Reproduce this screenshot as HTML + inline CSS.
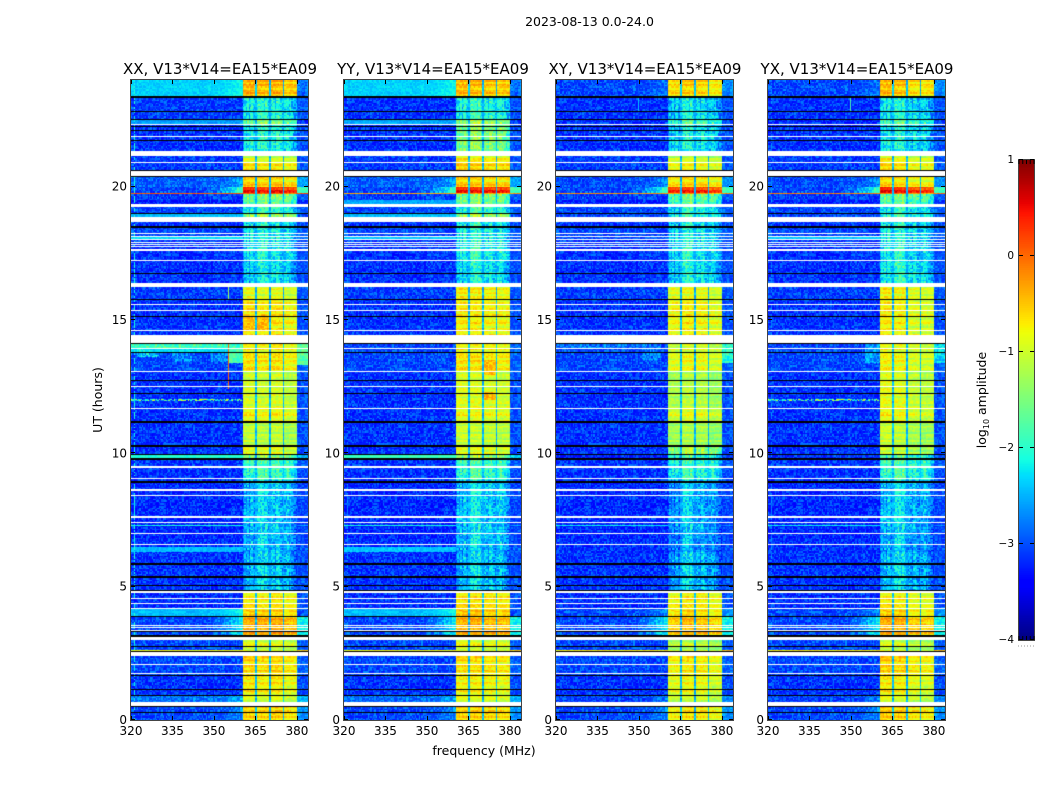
<!DOCTYPE html>
<html lang="en">
<head>
<meta charset="utf-8">
<title>2023-08-13 dynamic spectra</title>
<style>
html,body{margin:0;padding:0;background:#fff;}
#figure{position:relative;width:1050px;height:800px;overflow:hidden;background:#fff;font-family:"DejaVu Sans","Liberation Sans",sans-serif;color:#000;}
#figure canvas{position:absolute;display:block;}
#overlay{position:absolute;left:0;top:0;}
#overlay text{font-family:"DejaVu Sans","Liberation Sans",sans-serif;fill:#000;}
</style>
</head>
<body>
<div id="figure">
<svg id="overlay" width="1050" height="800" viewBox="0 0 1050 800">
<text x="589.5" y="26" text-anchor="middle" font-size="12.5">2023-08-13 0.0-24.0</text>
<text x="484" y="755" text-anchor="middle" font-size="12.5">frequency (MHz)</text>
<text x="102" y="400" text-anchor="middle" font-size="12.5" transform="rotate(-90 102 400)">UT (hours)</text>
<text x="986" y="400" text-anchor="middle" font-size="12.5" transform="rotate(-90 986 400)">log<tspan font-size="8" dy="3">10</tspan><tspan dy="-3"> amplitude</tspan></text>
<line x1="1018" y1="646" x2="1035" y2="646" stroke="#999" stroke-width="1" stroke-dasharray="1 2"/>
</svg>
</div>
<script>
// ---------- chart data (log10 amplitude, UT hours, MHz) ----------
const panelTitles = ["XX, V13*V14=EA15*EA09","YY, V13*V14=EA15*EA09","XY, V13*V14=EA15*EA09","YX, V13*V14=EA15*EA09"];
const freqTicks = [320,335,350,365,380];
const timeTicks = [0,5,10,15,20];
const colorTicks = [1,0,-1,-2,-3,-4];
const colorTickLabels = ["1","0","\u22121","\u22122","\u22123","\u22124"];

// top edge (UT hours) of each observing block; each block ends at the next top edge
const blockTops = [24,23.4,22.54,22.35,21.15,20.93,20.4,19.99,19.75,19.71,19.5,19.36,18.98,18.86,18.49,18.15,18,17.18,16.24,15.75,14.11,13.94,13.77,13.05,11.71,11.21,10.25,9.94,9.79,9,7.33,7.29,7.13,6.48,6.29,4.76,4.16,3.88,3,2.64,2.6,2.41,1.65,0.9,0.68];

// level below the 360-380 MHz band, per block
const lowXX = [-2.35,-3.15,-2.6,-3.2,-3.15,-3.15,-3.0,-3.1,0.1,-3.15,-3.35,-3.1,-2.45,-3.2,-3.1,-2.3,-3.2,-3.2,-3.15,-3.2,-2.0,-2.3,-3.1,-3.2,-3.2,-3.2,-3.2,-2.05,-3.2,-3.25,-2.1,-3.25,-3.25,-2.45,-3.2,-3.2,-2.45,-3.1,-3.1,-0.8,-3.1,-3.1,-3.2,-2.9,-3.1];
const lowYY = [-2.35,-3.2,-2.55,-3.2,-3.15,-3.15,-3.0,-3.1,-0.3,-3.15,-2.55,-3.1,-2.45,-3.2,-3.1,-2.4,-3.2,-3.2,-3.15,-3.2,-3.1,-3.1,-3.1,-3.2,-3.2,-3.2,-3.2,-1.9,-3.2,-3.25,-2.1,-3.25,-3.25,-2.4,-3.2,-3.2,-2.45,-3.1,-3.1,-0.8,-3.1,-3.1,-3.2,-2.95,-3.1];
const lowXY = [-3.1,-3.2,-3.2,-3.2,-3.15,-3.15,-3.1,-3.1,-0.2,-3.15,-3.3,-3.1,-3.1,-3.2,-3.1,-3.1,-3.2,-3.2,-3.15,-3.2,-3.1,-3.1,-3.1,-3.2,-3.2,-3.2,-3.2,-3.3,-3.2,-3.25,-2.2,-3.25,-3.25,-3.2,-3.2,-3.2,-3.1,-3.1,-3.1,-0.7,-3.1,-3.1,-3.2,-3.15,-3.1];
const lowYX = [-3.1,-3.2,-3.25,-3.2,-3.15,-3.15,-3.1,-3.1,-0.1,-3.15,-3.3,-3.1,-3.1,-3.2,-3.1,-2.4,-3.2,-3.2,-3.15,-3.2,-3.1,-3.1,-3.1,-3.2,-3.2,-3.2,-3.2,-3.2,-3.2,-3.25,-2.2,-3.25,-3.25,-3.2,-3.2,-3.2,-3.1,-3.1,-3.1,-0.7,-3.1,-3.1,-3.2,-3.15,-3.1];

// level inside the 360-380 MHz band, per block
const highXX = [-0.4,-2.2,-1.7,-2.2,-0.95,-0.6,-0.55,0.45,0.1,-1.6,-1.75,-2.1,-1.4,-2.3,-2.3,-2.2,-2.3,-2.35,-0.85,-0.65,-0.65,-0.7,-0.65,-0.95,-0.75,-1.05,-0.9,-1.5,-2.0,-2.5,-2.5,-2.5,-2.55,-2.6,-2.5,-0.65,-0.55,-0.3,-0.9,-1,-0.9,-0.55,-0.7,-0.9,-0.5];
const highYY = [-0.45,-2.15,-1.5,-1.6,-0.7,-0.5,-0.55,0.45,-0.3,-1.6,-1.65,-2.05,-1.4,-2.25,-2.25,-2.2,-2.2,-2.3,-0.7,-0.7,-0.7,-0.7,-0.65,-0.9,-0.8,-1,-0.9,-1.4,-2.0,-2.45,-2.5,-2.45,-2.5,-2.6,-2.5,-0.6,-0.5,-0.35,-0.85,-1,-0.85,-0.6,-0.75,-0.85,-0.5];
const highXY = [-0.55,-2.35,-1.95,-2.3,-0.95,-0.7,-0.6,0.4,-0.2,-1.7,-1.85,-2.2,-2.1,-2.35,-2.35,-2.2,-2.3,-2.3,-0.8,-0.7,-0.9,-0.85,-0.8,-1.1,-0.85,-1.15,-1.4,-2,-2.1,-2.6,-2.5,-2.6,-2.7,-2.8,-2.55,-0.65,-0.6,-0.4,-1.1,-1,-1.1,-0.65,-0.8,-0.95,-0.6];
const highYX = [-0.5,-2.3,-1.95,-2.3,-0.8,-0.6,-0.65,0.45,-0.1,-1.7,-1.85,-2.2,-2.1,-2.3,-2.3,-2.2,-2.3,-2.2,-0.75,-0.75,-0.8,-0.8,-0.8,-0.9,-0.8,-1.05,-1.1,-1.9,-2.0,-2.5,-2.5,-2.5,-2.6,-2.7,-2.5,-0.7,-0.6,-0.35,-1,-1,-1,-0.55,-0.75,-0.9,-0.5];

// how strongly the low-band level climbs toward the band edge, per block
const edgeRise = [0.2,0,0,0,0,0,0.3,1.2,0,0,0,0,0,0,0,0,0,0,0,0,0,0,0,0,0,0,0,0,0,0,0,0,0,0,0,0,0.3,0.9,0,0,0,0,0,0.3,0.3];

// flagged (white) and zeroed (black) time ranges in UT hours
const whiteTop = [22.34,21.9,21.34,20.93,20.6,19.36,18.85,18.26,18.14,18.03,17.94,17.86,17.79,17.66,17.61,17.25,16.4,15.59,15.36,14.61,14.42,13.94,13.09,12.53,11.71,9.53,9.08,8.66,8.45,7.66,7.43,7.01,6.59,4.82,4.56,4.38,4.2,3.56,3.49,3.38,3.12,2.56,2.1,1.75,0.69];
const whiteBottom = [22.3,21.86,21.15,20.89,20.4,19.24,18.69,18.23,18.1,17.99,17.9,17.82,17.74,17.64,17.57,17.21,16.24,15.55,15.32,14.57,14.15,13.9,13.05,12.49,11.67,9.45,9.04,8.6,8.41,7.59,7.39,6.98,6.55,4.75,4.53,4.34,4.16,3.53,3.45,3.34,3,2.41,2.06,1.71,0.54];
const blackTop = [23.4,22.85,22.54,22.29,22.13,21.74,20.63,20.4,19.01,18.53,16.75,15.79,15.15,14.15,13.81,12.75,12.25,11.21,10.31,9.98,9.81,8.95,5.88,5.39,5.05,4.88,3.9,3.34,3.19,2.78,2.6,1.68,1.15,0.93,0.54,0.29];
const blackBottom = [23.33,22.79,22.5,22.24,22.09,21.71,20.6,20.36,18.96,18.46,16.71,15.75,15.12,14.11,13.77,12.71,12.21,11.15,10.25,9.94,9.76,8.89,5.81,5.33,5.03,4.82,3.86,3.3,3.12,2.74,2.56,1.65,1.13,0.9,0.5,0.25];

// sub-band (360.5-365, 365.5-370, 370.5-375, 375.5-380 MHz) offsets per polarization
const subOffsetXX = [0,-0.05,0,-0.15];
const subOffsetYY = [0,0,-0.05,-0.1];
const subOffsetXY = [-0.1,0,-0.05,-0.2];
const subOffsetYX = [0.05,0,-0.15,-0.2];
const gapLevel = -2.45;

// channel-by-channel shape of the faint band blocks, 360-380 MHz in 0.5 MHz steps
const weakChannelShape = [-0.4,-0.3,-0.05,-0.2,0.1,-0.25,0.05,0.15,-0.1,-0.2,0,0.15,0.3,0.25,0.4,0.3,0.15,0.35,0.2,0,-0.1,0.05,0.2,0.1,-0.05,0.25,0.3,0.1,0,-0.1,-0.05,0.1,0.25,0.3,0.05,0.2,0,-0.15,-0.2,-0.3];

// brightness of the first channels per polarization
const edgeColumn = [-2.2,-2.8,-3,-2.8];

// broadband patches: polarization index, MHz range, UT range, level, grain strength
const patchPanel = [0,0,0,0,0,0,0,2,2,2,3,3,3,1,1,0,0];
const patchFreqLo = [320,322,335,349,355,380,320,351,380,320,355,380,320,370.5,370.5,365.5,360.5];
const patchFreqHi = [360,330,342,355,360.5,384,360,358,384,352,360.5,384,360,375,375,370,365];
const patchTop = [14.11,13.95,13.84,13.84,13.95,14.11,12.02,14.11,14.11,14.11,14.11,14.11,12.02,13.5,12.3,15.19,15.19];
const patchBottom = [13.95,13.6,13.43,13.43,13.4,13.31,11.98,13.5,13.4,13.95,13.4,13.4,11.98,12.94,12,14.6,14.6];
const patchLevel = [-2,-2.4,-2.75,-2.75,-1.8,-1.7,-2.2,-2.8,-2,-2.8,-2.6,-2.3,-2.2,-0.45,-0.45,-0.45,-0.5];
const patchGrain = [1.2,1,0.8,0.8,0.5,0.5,3,0.8,0.6,0.8,0.7,0.6,3,0.5,0.5,0.5,0.5];

// narrow vertical interference: polarization index, MHz, UT range, level
const rfiPanel = [0,0,0,0,0,1,2,3,3,3,3,3];
const rfiFreq = [321.5,355.2,350,355.2,321.5,321,349.6,349.6,355,355,321,321];
const rfiTop = [14.11,14.11,23.4,16.24,16.24,14.11,23.33,23.33,16.24,14.11,16.24,14.11];
const rfiBottom = [13,12.4,22.85,15.75,15.75,13.3,22.85,22.85,15.75,13.05,15.75,13.05];
const rfiLevel = [0.2,0,-1.8,-1.3,-1.6,-2,-2.4,-1.8,-1.6,-1.6,-1.7,-1.7];

// typed grain table applied to the cells
const speckle = [0.31,-0.42,0.08,-0.17,0.46,-0.29,0.12,-0.5,0.23,0.02,-0.36,0.41,-0.08,0.19,-0.24,0.37,-0.45,0.05,0.28,-0.13,-0.39,0.44,0.1,-0.21,0.34,-0.02,-0.48,0.16,0.26,-0.32,0.07,0.39,-0.11,-0.44,0.21,0.49,-0.26,0.03,-0.16,0.33,-0.38,0.14,-0.06,0.43,-0.23,0.24,-0.47,0.11,0.36,-0.19,-0.03,0.29,-0.34,0.47,-0.12,0.18,-0.41,0.06,0.32,-0.27,0.01,-0.46,0.38,0.15,-0.09,-0.31,0.42,0.22,-0.37,0.09,-0.18,0.48,-0.04,-0.28,0.27,0.13,-0.43,0.35,-0.14,0.04,-0.33,0.45,0.2,-0.49,0.17,-0.07,0.3,-0.22,0.4,-0.35,0.0,0.25,-0.15,-0.4,0.5,-0.1,0.16];
const bandStripe = [0.14,-0.1,0.18,0.02,-0.16,0.08,0.2,-0.06,-0.18,0.12,0.04,-0.13,0.16,-0.03,0.09,-0.2,0.14,0.05,-0.09,0.17,-0.14,0.01,0.1];

const lowLevels = [lowXX,lowYY,lowXY,lowYX];
const highLevels = [highXX,highYY,highXY,highYX];
const subOffsets = [subOffsetXX,subOffsetYY,subOffsetXY,subOffsetYX];

// ---------- geometry and scales ----------
const panelLeft = [131,344,556,768];
const plotTop = 80, plotW = 177, plotH = 640;
const nChan = 128, nRows = 640;
const freqMin = 320, freqMax = 384, timeMin = 0, timeMax = 24;
const cbLeft = 1019, cbTop = 160, cbW = 15, cbH = 480;
const colorMin = -4, colorMax = 1;

function xScale(f){ return (f-freqMin)/(freqMax-freqMin)*plotW; }
function yScale(h){ return (timeMax-h)/(timeMax-timeMin)*plotH; }
function cScale(v){ return (colorMax-v)/(colorMax-colorMin)*cbH; }

const jetR = [[0,0],[0.35,0],[0.66,1],[0.89,1],[1,0.5]];
const jetG = [[0,0],[0.125,0],[0.375,1],[0.64,1],[0.91,0],[1,0]];
const jetB = [[0,0.5],[0.11,1],[0.34,1],[0.65,0],[1,0]];
function lerpStops(st,t){
  for(let i=1;i<st.length;i++){
    if(t<=st[i][0]){
      const a=st[i-1],b=st[i];
      return a[1]+(b[1]-a[1])*(t-a[0])/(b[0]-a[0]);
    }
  }
  return st[st.length-1][1];
}
const colorLut = [];
for(let i=0;i<256;i++){
  const t=i/255;
  colorLut.push('rgb('+Math.round(lerpStops(jetR,t)*255)+','+Math.round(lerpStops(jetG,t)*255)+','+Math.round(lerpStops(jetB,t)*255)+')');
}
function colorOf(v){
  const t=Math.max(0,Math.min(1,(v-colorMin)/(colorMax-colorMin)));
  return colorLut[Math.round(t*255)];
}

function blockIndex(h){
  for(let i=blockTops.length-1;i>=0;i--){ if(h<=blockTops[i] && (i===blockTops.length-1 || h>blockTops[i+1])) return i; }
  return 0;
}

function cellValue(p,b,r,c,h,f){
  const g=Math.floor(r*2/3);
  const s=speckle[(g*53+c*11+((g*c)%17)*5+(g%7)*(c%5))%speckle.length];
  const low=lowLevels[p][b], hi=highLevels[p][b], rise=edgeRise[b];
  const faint=low<-2.8;
  const lowGrain=faint ? (s>0 ? s*0.9 : s*0.35) : s*0.3;
  let v;
  if(f<360.5){
    const k=Math.max(0,(f-345)/15);
    v=low+rise*k*k+lowGrain;
    if(c===2 && s>-0.2) v=Math.max(v,edgeColumn[p]+s*0.5);
  } else if(f<380){
    const o=(f-360.5)/5, sub=Math.min(3,Math.floor(o));
    if(o-sub>0.9){
      v=Math.min(hi,gapLevel)+s*0.4;
    } else if(hi>-1.2){
      v=hi+subOffsets[p][sub]+s*0.4+bandStripe[Math.floor(r/2)%bandStripe.length]-0.05;
    } else {
      v=hi+subOffsets[p][sub]+weakChannelShape[Math.floor((f-360)*2)]+s*0.8;
    }
  } else {
    const upper=low>-2.7 && low<-1 ? low-0.5 : low+0.15+rise*0.8;
    v=upper+(faint ? lowGrain*0.8 : s*0.6);
  }
  for(let i=0;i<patchPanel.length;i++){
    if(patchPanel[i]===p && f>=patchFreqLo[i] && f<patchFreqHi[i] && h<=patchTop[i] && h>patchBottom[i]){
      v=Math.max(v,patchLevel[i]+s*patchGrain[i]);
    }
  }
  for(let i=0;i<rfiPanel.length;i++){
    if(rfiPanel[i]===p && Math.abs(f-rfiFreq[i])<0.2 && h<=rfiTop[i] && h>rfiBottom[i]){
      v=Math.max(v,rfiLevel[i]);
    }
  }
  return v;
}

const figure=document.getElementById('figure');
const overlay=document.getElementById('overlay');
const NS='http://www.w3.org/2000/svg';

function drawHeatmap(p){
  const cv=document.createElement('canvas');
  
  
  cv.width=plotW; cv.height=plotH;
  cv.style.left=panelLeft[p]+'px';
  cv.style.top=plotTop+'px';
  const ctx=cv.getContext('2d');
  const dT=(timeMax-timeMin)/nRows, dF=(freqMax-freqMin)/nChan;
  for(let r=0;r<nRows;r++){
    const h=timeMax-(r+0.5)*dT;
    const b=blockIndex(h);
    const y0=Math.round(yScale(timeMax-r*dT)), y1=Math.round(yScale(timeMax-(r+1)*dT));
    for(let c=0;c<nChan;c++){
      const f=freqMin+(c+0.5)*dF;
      const x0=Math.round(xScale(freqMin+c*dF)), x1=Math.round(xScale(freqMin+(c+1)*dF));
      if(x1>x0 && y1>y0){
        ctx.fillStyle=colorOf(cellValue(p,b,r,c,h,f));
        ctx.fillRect(x0,y0,x1-x0,y1-y0);
      }
    }
  }
  ctx.fillStyle='#fff';
  whiteTop.forEach(function(t,i){
    const y0=Math.round(yScale(t)), y1=Math.max(y0+1,Math.round(yScale(whiteBottom[i])));
    ctx.fillRect(0,y0,plotW,y1-y0);
  });
  ctx.fillStyle='#000';
  blackTop.forEach(function(t,i){
    const y0=Math.round(yScale(t)), y1=Math.max(y0+1,Math.round(yScale(blackBottom[i])));
    ctx.fillRect(0,y0,plotW,y1-y0);
  });
  figure.insertBefore(cv,overlay);
}

function addLine(x1,y1,x2,y2,name){
  const l=document.createElementNS(NS,'line');
  l.setAttribute('x1',x1); l.setAttribute('y1',y1);
  l.setAttribute('x2',x2); l.setAttribute('y2',y2);
  l.setAttribute('stroke','#000'); l.setAttribute('stroke-width','1');
  
  
  overlay.appendChild(l);
}
function addText(x,y,str,size,anchor,name){
  const t=document.createElementNS(NS,'text');
  t.setAttribute('x',x); t.setAttribute('y',y);
  t.setAttribute('font-size',size);
  t.setAttribute('text-anchor',anchor);
  
  
  t.textContent=str;
  overlay.appendChild(t);
}
function addFrame(x,y,w,h,name){
  const f=document.createElementNS(NS,'rect');
  f.setAttribute('x',x-0.5); f.setAttribute('y',y-0.5);
  f.setAttribute('width',w+1); f.setAttribute('height',h+1);
  f.setAttribute('fill','none');
  f.setAttribute('stroke','#444');
  f.setAttribute('stroke-width','1');
  
  
  overlay.appendChild(f);
}

panelTitles.forEach(function(title,p){
  drawHeatmap(p);
  const left=panelLeft[p];
  const bottom=plotTop+plotH;
  addFrame(left,plotTop,plotW,plotH,'panel-frame');
  addText(left+plotW/2+0.5,74,title,15,'middle','panel-title');
  freqTicks.forEach(function(f){
    const x=Math.round(left+xScale(f))+0.5;
    addLine(x,bottom,x,bottom-4,'x-tick-bottom');
    addLine(x,plotTop,x,plotTop+4,'x-tick-top');
    addText(left+xScale(f),bottom+15,String(f),12,'middle','x-tick-label');
  });
  timeTicks.forEach(function(h){
    const y=Math.round(plotTop+yScale(h))-0.5;
    addLine(left,y,left+4,y,'y-tick-left');
    addLine(left+plotW,y,left+plotW-4,y,'y-tick-right');
    addText(left-4,plotTop+yScale(h)+4,String(h),12,'end','y-tick-label');
  });
});

// colorbar
const cb=document.createElement('canvas');


cb.width=cbW; cb.height=cbH;
cb.style.left=cbLeft+'px';
cb.style.top=cbTop+'px';
const cbx=cb.getContext('2d');
for(let i=0;i<cbH;i++){
  cbx.fillStyle=colorOf(colorMax-(i+0.5)/cbH*(colorMax-colorMin));
  cbx.fillRect(0,i,cbW,1);
}
figure.insertBefore(cb,overlay);
addFrame(cbLeft,cbTop,cbW,cbH,'colorbar-frame');
colorTicks.forEach(function(v,i){
  const y=Math.round(cbTop+cScale(v))-0.5;
  addLine(cbLeft,y,cbLeft+4,y,'colorbar-tick-left');
  addLine(cbLeft+cbW,y,cbLeft+cbW-4,y,'colorbar-tick-right');
  addText(cbLeft-5,cbTop+cScale(v)+3,colorTickLabels[i],10.5,'end','colorbar-tick-label');
});
for(let k=0;k<5;k++){
  const x=cbLeft+k*cbW/4;
  addLine(x,cbTop,x,cbTop+4,'colorbar-edge-tick-top');
  addLine(x,cbTop+cbH,x,cbTop+cbH-4,'colorbar-edge-tick-bottom');
}
</script>
</body>
</html>
